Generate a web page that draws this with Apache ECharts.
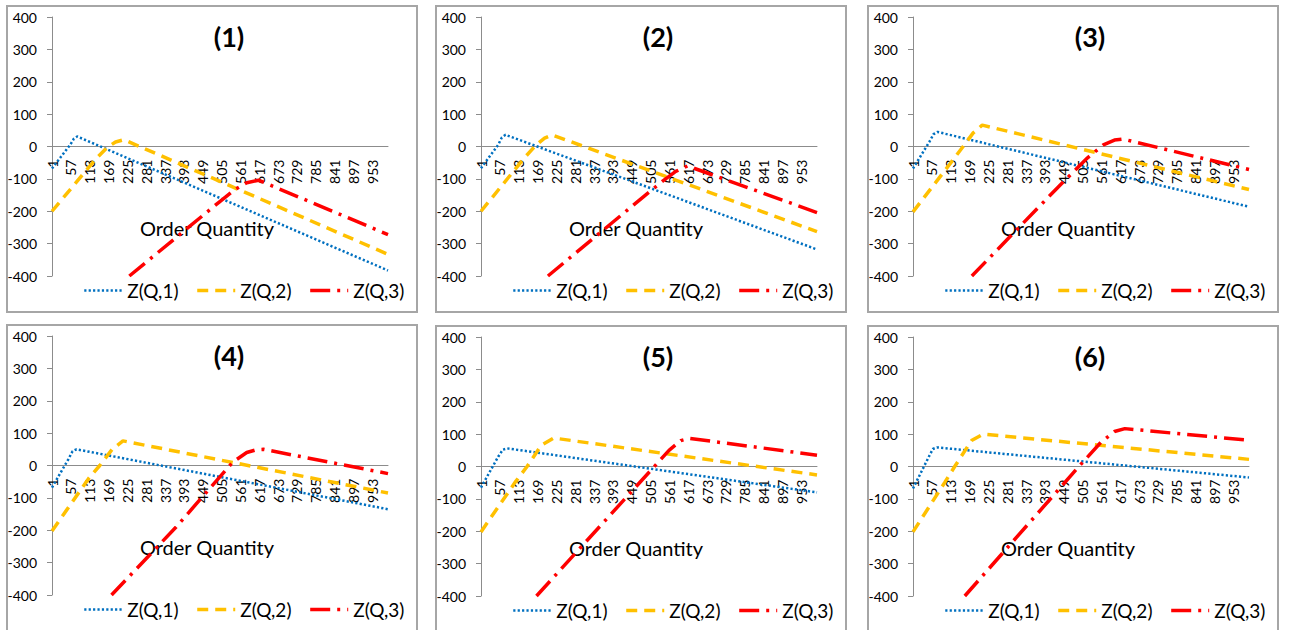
<!DOCTYPE html>
<html><head><meta charset="utf-8">
<script src="https://cdn.jsdelivr.net/npm/echarts@6/dist/echarts.min.js"></script>
<style>
html,body{margin:0;padding:0;background:#fff}
body{width:1295px;height:630px;overflow:hidden;position:relative}
.c{position:absolute;width:412px;height:308px}
.f{position:absolute;width:412px;height:308px;border:2px solid #a6a6a6;box-sizing:border-box;pointer-events:none}
</style></head><body>
<div class="c" id="c1" style="left:6px;top:5px"></div>
<div class="c" id="c2" style="left:435px;top:5px"></div>
<div class="c" id="c3" style="left:867px;top:5px"></div>
<div class="c" id="c4" style="left:6px;top:324px"></div>
<div class="c" id="c5" style="left:435px;top:325px"></div>
<div class="c" id="c6" style="left:867px;top:325px"></div>
<div class="f" style="left:6px;top:5px"></div>
<div class="f" style="left:435px;top:5px"></div>
<div class="f" style="left:867px;top:5px"></div>
<div class="f" style="left:6px;top:324px"></div>
<div class="f" style="left:435px;top:325px"></div>
<div class="f" style="left:867px;top:325px"></div>
<script>
// ---- data ----
const panelTitles = ['(1)','(2)','(3)','(4)','(5)','(6)'];
const seriesNames = ['Z(Q,1)','Z(Q,2)','Z(Q,3)'];
const xTickLabels = [1,57,113,169,225,281,337,393,449,505,561,617,673,729,785,841,897,953];

const p1Z1 = [[1,-68],[55,5],[66,24],[76,31],[1000,-383]];
const p1Z2 = [[1,-200],[130,-40],[165,-3],[190,14],[215,21],[1000,-333]];
const p1Z3 = [[231,-400],[500,-170],[545,-133],[580,-112],[615,-104],[1000,-272]];

const p2Z1 = [[1,-67],[52,5],[63,28],[74,36],[1000,-318]];
const p2Z2 = [[1,-200],[130,-35],[165,5],[190,26],[212,36],[1000,-263]];
const p2Z3 = [[200,-400],[490,-150],[540,-108],[580,-77],[615,-60],[1000,-204]];

const p3Z1 = [[1,-68],[50,15],[62,38],[74,45],[1000,-186]];
const p3Z2 = [[1,-202],[110,-55],[150,0],[180,42],[207,66],[1000,-133]];
const p3Z3 = [[176,-400],[430,-128],[520,-35],[567,5],[600,20],[625,23],[1000,-71]];

const p4Z1 = [[1,-68],[50,20],[62,44],[74,50],[1000,-135]];
const p4Z2 = [[1,-202],[110,-40],[143,0],[180,50],[212,76],[1000,-85]];
const p4Z3 = [[178,-400],[370,-190],[538,10],[580,40],[610,49],[630,50],[1000,-25]];

const p5Z1 = [[1,-65],[52,30],[66,52],[79,56],[1000,-80]];
const p5Z2 = [[1,-202],[105,-45],[138,0],[180,65],[217,88],[1000,-26]];
const p5Z3 = [[166,-400],[505,-13],[560,50],[595,80],[620,87],[1000,35]];

const p6Z1 = [[1,-68],[48,30],[60,54],[72,59],[1000,-34]];
const p6Z2 = [[1,-202],[95,-50],[125,0],[175,80],[209,100],[1000,22]];
const p6Z3 = [[155,-400],[502,9],[560,75],[600,108],[631,117],[1000,81]];

const panels = [
  [p1Z1,p1Z2,p1Z3],[p2Z1,p2Z2,p2Z3],[p3Z1,p3Z2,p3Z3],
  [p4Z1,p4Z2,p4Z3],[p5Z1,p5Z2,p5Z3],[p6Z1,p6Z2,p6Z3]
];

// ---- styles ----
const FONT = 'Lato';
const GRID_H = 259;
const lineStyles = [
  {color:'#0070C0', width:2.5, type:[2.2,2.2], cap:'butt'},
  {color:'#FFC000', width:3.5, type:[11,7], cap:'butt'},
  {color:'#FF0000', width:3.5, type:[20,7,3,7], cap:'butt'}
];

function makeOption(i){
  const data = panels[i];
  return {
    animation:false,
    textStyle:{fontFamily:FONT},
    grid:{left:46, top:12, width:336, height:GRID_H, containLabel:false, outerBoundsMode:'none'},
    graphic:[{type:'text', x:223, y:31, style:{text:panelTitles[i], font:'bold 27px '+FONT, fill:'#000', align:'center', verticalAlign:'middle'}}],
    legend:{left:72, top:271, itemWidth:38, itemHeight:10, itemGap:17,
      itemStyle:{color:'rgba(0,0,0,0)', borderWidth:0, opacity:0},
      lineStyle:{width:'inherit'},
      textStyle:{fontSize:19, color:'#000', fontFamily:FONT},
      data:seriesNames},
    xAxis:{type:'value', min:1, max:1000, position:'bottom', offset:-GRID_H/2,
      name:'Order Quantity', nameLocation:'middle', nameGap:71,
      nameTextStyle:{fontSize:20, color:'#000', fontFamily:FONT, padding:[0,26,0,0]},
      axisLine:{onZero:false, lineStyle:{color:'#8c8c8c', width:1}},
      axisTick:{show:false}, splitLine:{show:false},
      axisLabel:{customValues:xTickLabels, rotate:90, margin:13, fontSize:14, color:'#000', fontFamily:FONT}},
    yAxis:{type:'value', min:-400, max:400, interval:100,
      axisLine:{show:true, lineStyle:{color:'#8c8c8c', width:1}},
      axisTick:{show:true, length:5, lineStyle:{color:'#8c8c8c'}},
      splitLine:{show:false},
      axisLabel:{fontSize:14, color:'#000', margin:15, fontFamily:FONT}},
    series: data.map((d,k)=>({
      name:seriesNames[k], type:'line', data:d, symbol:'none',
      lineStyle:lineStyles[k], itemStyle:{color:lineStyles[k].color}, z:2+k
    }))
  };
}
for(let i=0;i<6;i++){
  const ch = echarts.init(document.getElementById('c'+(i+1)), null, {renderer:'svg'});
  ch.setOption(makeOption(i));
}
</script>
</body></html>
